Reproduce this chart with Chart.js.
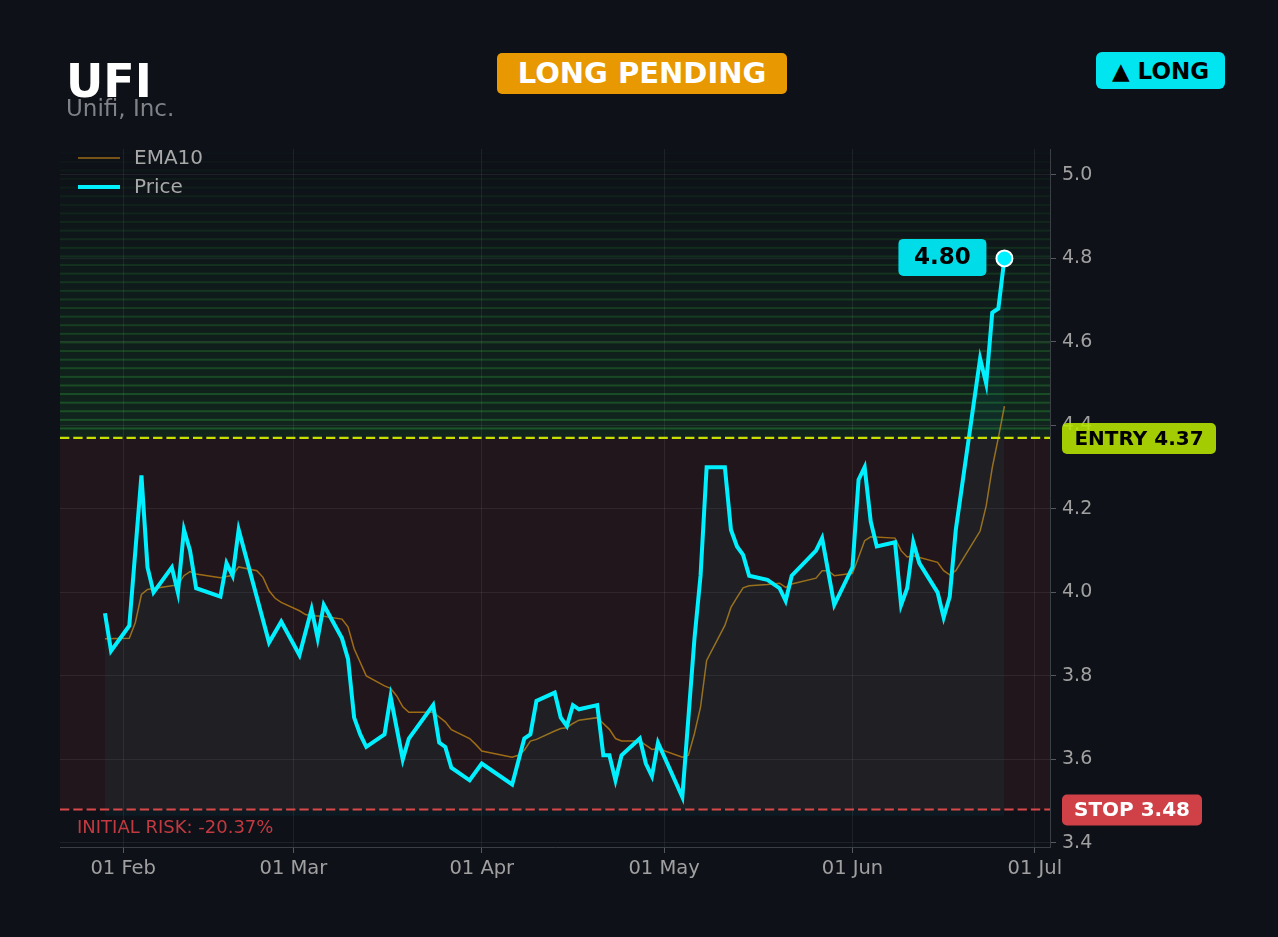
<!DOCTYPE html>
<html>
<head>
<meta charset="utf-8">
<title>UFI</title>
<script src="https://cdn.jsdelivr.net/npm/chart.js@4.4.1/dist/chart.umd.min.js"></script>
<style>
  html, body { margin: 0; padding: 0; background: #0e1118; }
  body { width: 1278px; height: 937px; position: relative; overflow: hidden; font-family: "DejaVu Sans", sans-serif; }
  #chart { position: absolute; left: 0; top: 0; }
  .sym { position: absolute; left: 66px; top: 58px; font-size: 46px; line-height: 46px; font-weight: bold; color: #fff; }
  .name { position: absolute; left: 66px; top: 97px; font-size: 23px; line-height: 23px; color: #808288; }
  .badge { position: absolute; display: flex; align-items: center; justify-content: center; font-weight: bold; }
  .pending { left: 497px; top: 53px; width: 290px; height: 41px; border-radius: 5px; background: #e89800; color: #fff; font-size: 29px; padding-bottom: 1px; box-sizing: border-box; }
  .side { left: 1096px; top: 52px; width: 129px; height: 37px; border-radius: 6px; background: #00e5f0; color: #000; font-size: 23px; }
</style>
</head>
<body>
<canvas id="chart" width="1278" height="937"></canvas>
<div class="sym">UFI</div>
<div class="name">Unifi, Inc.</div>
<div class="badge pending">LONG PENDING</div>
<div class="badge side">▲ LONG</div>
<script>
const entryPrice = 4.37;
const stopPrice = 3.48;

// closing prices (vertices)
const priceDates = [
  '2026-01-29', '2026-01-30', '2026-02-02', '2026-02-04', '2026-02-05', '2026-02-06',
  '2026-02-09', '2026-02-10', '2026-02-11', '2026-02-12', '2026-02-13', '2026-02-17',
  '2026-02-18', '2026-02-19', '2026-02-20', '2026-02-25', '2026-02-27', '2026-03-02',
  '2026-03-04', '2026-03-05', '2026-03-06', '2026-03-09', '2026-03-10', '2026-03-11',
  '2026-03-12', '2026-03-13', '2026-03-16', '2026-03-17', '2026-03-19', '2026-03-20',
  '2026-03-24', '2026-03-25', '2026-03-26', '2026-03-27', '2026-03-30', '2026-04-01',
  '2026-04-06', '2026-04-08', '2026-04-09', '2026-04-10', '2026-04-13', '2026-04-14',
  '2026-04-15', '2026-04-16', '2026-04-17', '2026-04-20', '2026-04-21', '2026-04-22',
  '2026-04-23', '2026-04-24', '2026-04-27', '2026-04-28', '2026-04-29', '2026-04-30',
  '2026-05-04', '2026-05-06', '2026-05-07', '2026-05-08', '2026-05-11', '2026-05-12',
  '2026-05-13', '2026-05-14', '2026-05-15', '2026-05-18', '2026-05-20', '2026-05-21',
  '2026-05-22', '2026-05-26', '2026-05-27', '2026-05-29', '2026-06-01', '2026-06-02',
  '2026-06-03', '2026-06-04', '2026-06-05', '2026-06-08', '2026-06-09', '2026-06-10',
  '2026-06-11', '2026-06-12', '2026-06-15', '2026-06-16', '2026-06-17', '2026-06-18',
  '2026-06-22', '2026-06-23', '2026-06-24', '2026-06-25', '2026-06-26'
];
const priceValues = [
  3.95, 3.86, 3.92, 4.28, 4.06, 4.00,
  4.06, 4.00, 4.15, 4.10, 4.01, 3.99,
  4.07, 4.04, 4.15, 3.88, 3.93, 3.85,
  3.96, 3.89, 3.97, 3.89, 3.84, 3.70,
  3.66, 3.63, 3.66, 3.75, 3.60, 3.65,
  3.73, 3.64, 3.63, 3.58, 3.55, 3.59,
  3.54, 3.65, 3.66, 3.74, 3.76, 3.70,
  3.68, 3.73, 3.72, 3.73, 3.61, 3.61,
  3.55, 3.61, 3.65, 3.59, 3.56, 3.64,
  3.51, 3.89, 4.04, 4.30, 4.30, 4.15,
  4.11, 4.09, 4.04, 4.03, 4.01, 3.98,
  4.04, 4.10, 4.13, 3.97, 4.06, 4.27,
  4.30, 4.17, 4.11, 4.12, 3.97, 4.01,
  4.12, 4.07, 4.00, 3.94, 3.99, 4.15,
  4.56, 4.50, 4.67, 4.68, 4.80
];

// EMA10 as drawn
const emaDates = [
  '2026-01-29', '2026-02-02', '2026-02-03', '2026-02-04', '2026-02-05', '2026-02-09',
  '2026-02-10', '2026-02-11', '2026-02-12', '2026-02-13', '2026-02-17', '2026-02-19',
  '2026-02-20', '2026-02-23', '2026-02-24', '2026-02-25', '2026-02-26', '2026-02-27',
  '2026-03-02', '2026-03-03', '2026-03-04', '2026-03-06', '2026-03-09', '2026-03-10',
  '2026-03-11', '2026-03-13', '2026-03-16', '2026-03-17', '2026-03-18', '2026-03-19',
  '2026-03-20', '2026-03-24', '2026-03-26', '2026-03-27', '2026-03-30', '2026-03-31',
  '2026-04-01', '2026-04-06', '2026-04-07', '2026-04-08', '2026-04-09', '2026-04-10',
  '2026-04-13', '2026-04-14', '2026-04-15', '2026-04-16', '2026-04-17', '2026-04-20',
  '2026-04-21', '2026-04-22', '2026-04-23', '2026-04-24', '2026-04-27', '2026-04-28',
  '2026-04-29', '2026-04-30', '2026-05-04', '2026-05-05', '2026-05-06', '2026-05-07',
  '2026-05-08', '2026-05-11', '2026-05-12', '2026-05-13', '2026-05-14', '2026-05-15',
  '2026-05-18', '2026-05-20', '2026-05-21', '2026-05-22', '2026-05-26', '2026-05-27',
  '2026-05-28', '2026-05-29', '2026-06-01', '2026-06-02', '2026-06-03', '2026-06-04',
  '2026-06-08', '2026-06-09', '2026-06-10', '2026-06-11', '2026-06-15', '2026-06-16',
  '2026-06-17', '2026-06-18', '2026-06-22', '2026-06-23', '2026-06-24', '2026-06-25',
  '2026-06-26'
];
const emaValues = [
  3.889, 3.890, 3.928, 3.995, 4.007, 4.016,
  4.018, 4.040, 4.050, 4.044, 4.035, 4.041,
  4.061, 4.052, 4.036, 4.004, 3.986, 3.976,
  3.956, 3.947, 3.944, 3.943, 3.936, 3.917,
  3.865, 3.800, 3.776, 3.770, 3.752, 3.726,
  3.713, 3.713, 3.690, 3.671, 3.650, 3.636,
  3.620, 3.605, 3.610, 3.622, 3.644, 3.648,
  3.668, 3.674, 3.676, 3.686, 3.694, 3.700,
  3.686, 3.672, 3.650, 3.644, 3.644, 3.634,
  3.624, 3.626, 3.605, 3.610, 3.662, 3.726,
  3.837, 3.921, 3.964, 3.988, 4.011, 4.016,
  4.019, 4.022, 4.012, 4.020, 4.034, 4.052,
  4.052, 4.040, 4.046, 4.084, 4.124, 4.133,
  4.130, 4.100, 4.085, 4.088, 4.072, 4.052,
  4.042, 4.052, 4.147, 4.207, 4.299, 4.370,
  4.446
];

const xTickDates = ['2026-02-01', '2026-03-01', '2026-04-01', '2026-05-01', '2026-06-01', '2026-07-01'];
const yTicks = [3.4, 3.6, 3.8, 4.0, 4.2, 4.4, 4.6, 4.8, 5.0];

const MONTHS = ['Jan', 'Feb', 'Mar', 'Apr', 'May', 'Jun', 'Jul', 'Aug', 'Sep', 'Oct', 'Nov', 'Dec'];
const BASE = Date.UTC(2026, 0, 1);

// dates -> day number since 1 Jan 2026 (linear x axis, no date adapter)
function toDay(s) {
  const p = s.split('-');
  return (Date.UTC(+p[0], +p[1] - 1, +p[2]) - BASE) / 86400000;
}
function dayLabel(v) {
  const d = new Date(BASE + v * 86400000);
  return String(d.getUTCDate()).padStart(2, '0') + ' ' + MONTHS[d.getUTCMonth()];
}

const FONT = '"DejaVu Sans", sans-serif';
const priceColor = '#00f0ff';
const emaColor = 'rgba(190,130,20,0.8)';

const zones = {
  id: 'zones',
  beforeDraw(chart) {
    const { ctx, chartArea: a, scales: { y } } = chart;
    const yE = y.getPixelForValue(entryPrice);
    const yS = y.getPixelForValue(stopPrice);
    ctx.save();
    ctx.beginPath();
    ctx.rect(a.left, a.top, a.width, a.height);
    ctx.clip();
    // risk zone between stop and entry
    ctx.fillStyle = '#21161b';
    ctx.fillRect(a.left, yE, a.width, yS - yE);
    // target zone above entry, greener toward the entry
    const g = ctx.createLinearGradient(0, a.top, 0, yE);
    g.addColorStop(0, 'rgba(30,110,50,0.0)');
    g.addColorStop(1, 'rgba(30,110,50,0.22)');
    ctx.fillStyle = g;
    ctx.fillRect(a.left, a.top, a.width, yE - a.top);
    const step = 0.0206;
    for (let v = entryPrice + step * 1.1; v < y.max; v += step) {
      const t = (v - entryPrice) / (y.max - entryPrice);
      const py = y.getPixelForValue(v);
      ctx.fillStyle = 'rgba(40,140,50,' + (0.45 * (1 - t) + 0.03).toFixed(3) + ')';
      ctx.fillRect(a.left, py - 1, a.width, 2);
    }
    ctx.restore();
  }
};

function badge(ctx, x, yc, w, h, bg, fg, text, size) {
  ctx.fillStyle = bg;
  ctx.beginPath();
  ctx.roundRect(x, yc - h / 2, w, h, 5);
  ctx.fill();
  ctx.fillStyle = fg;
  ctx.font = 'bold ' + size + 'px ' + FONT;
  ctx.textAlign = 'center';
  ctx.textBaseline = 'middle';
  ctx.fillText(text, x + w / 2, yc + 1);
}

const levels = {
  id: 'levels',
  afterDatasetsDraw(chart) {
    const { ctx, chartArea: a, scales: { y } } = chart;
    ctx.save();
    ctx.setLineDash([9.3, 4]);
    ctx.lineWidth = 2.2;
    [[entryPrice, '#c8e000'], [stopPrice, '#d94848']].forEach(([v, c]) => {
      const py = y.getPixelForValue(v);
      ctx.strokeStyle = c;
      ctx.beginPath();
      ctx.moveTo(a.left, py);
      ctx.lineTo(a.right, py);
      ctx.stroke();
    });
    ctx.restore();
  },
  afterDraw(chart) {
    const { ctx, chartArea: a, scales: { y } } = chart;
    const yE = y.getPixelForValue(entryPrice);
    const yS = y.getPixelForValue(stopPrice);
    ctx.save();
    badge(ctx, a.right + 12, yE + 0.5, 154, 31, 'rgba(184,230,0,0.88)', '#000', 'ENTRY ' + entryPrice.toFixed(2), 20);
    badge(ctx, a.right + 12, yS + 0.5, 140, 31, '#cf4146', '#fff', 'STOP ' + stopPrice.toFixed(2), 20);

    // last price tag
    const meta = chart.getDatasetMeta(1);
    const last = meta.data[meta.data.length - 1];
    badge(ctx, last.x - 106, last.y - 1, 88, 37, '#00dce8', '#000', priceValues[priceValues.length - 1].toFixed(2), 23);

    // risk text
    const risk = (stopPrice / entryPrice - 1) * 100;
    ctx.font = '18px ' + FONT;
    ctx.fillStyle = '#c23a40';
    ctx.textAlign = 'left';
    ctx.textBaseline = 'alphabetic';
    ctx.fillText('INITIAL RISK: ' + risk.toFixed(2) + '%', a.left + 17, yS + 23);

    // legend
    chart.data.datasets.forEach((ds, i) => {
      const ly = a.top + 9 + i * 29;
      ctx.strokeStyle = ds.borderColor;
      ctx.lineWidth = ds.borderWidth;
      ctx.beginPath();
      ctx.moveTo(a.left + 18, ly);
      ctx.lineTo(a.left + 60, ly);
      ctx.stroke();
      ctx.font = '20px ' + FONT;
      ctx.fillStyle = '#a8a8a8';
      ctx.textBaseline = 'middle';
      ctx.fillText(ds.label, a.left + 74, ly + 1);
    });
    ctx.restore();
  }
};

const gridColor = 'rgba(255,255,255,0.07)';
const lastIdx = priceValues.length - 1;

new Chart(document.getElementById('chart'), {
  type: 'line',
  data: {
    datasets: [
      {
        label: 'EMA10',
        data: emaDates.map((d, i) => ({ x: toDay(d), y: emaValues[i] })),
        borderColor: emaColor,
        borderWidth: 1.5,
        pointRadius: 0,
        fill: false,
        order: 1
      },
      {
        label: 'Price',
        data: priceDates.map((d, i) => ({ x: toDay(d), y: priceValues[i] })),
        borderColor: priceColor,
        borderWidth: 4,
        backgroundColor: 'rgba(0,229,255,0.045)',
        fill: { value: 3.465 },
        pointRadius: ctx => ctx.dataIndex === lastIdx ? 8 : 0,
        pointBackgroundColor: priceColor,
        pointBorderColor: '#ffffff',
        pointBorderWidth: 2,
        order: 0
      }
    ]
  },
  options: {
    responsive: false,
    animation: false,
    layout: { padding: { left: 60, top: 149, right: 0, bottom: 0 } },
    plugins: { legend: { display: false }, tooltip: { enabled: false } },
    scales: {
      x: {
        type: 'linear',
        min: 20.6,
        max: 183.5,
        afterBuildTicks: s => { s.ticks = xTickDates.map(d => ({ value: toDay(d) })); },
        afterFit: s => { s.height = 90; },
        grid: { color: gridColor, tickLength: 6, tickColor: '#555a60' },
        border: { color: '#3a3e45' },
        ticks: { color: '#a0a0a0', font: { family: FONT, size: 19.5 }, padding: 4, maxRotation: 0, callback: v => dayLabel(v) }
      },
      y: {
        position: 'right',
        min: 3.3902,
        max: 5.062,
        afterBuildTicks: s => { s.ticks = yTicks.map(v => ({ value: v })); },
        afterFit: s => { s.width = 228; },
        grid: { color: gridColor, tickLength: 6, tickColor: '#555a60' },
        border: { color: '#3a3e45' },
        ticks: { color: '#a0a0a0', font: { family: FONT, size: 19 }, padding: 6, callback: v => v.toFixed(1) }
      }
    }
  },
  plugins: [zones, levels]
});
</script>
</body>
</html>
